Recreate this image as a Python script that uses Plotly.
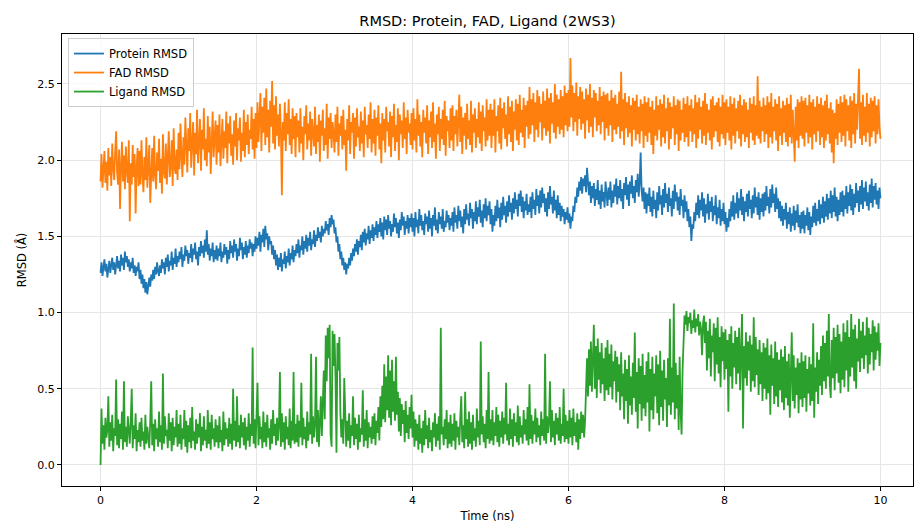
import numpy as np
import plotly.graph_objects as go

# Simulation length (ns); frames are evenly spaced over it (one frame every 0.0125 ns)
sim_length_ns = 10.0

# Protein backbone RMSD (Å), one row per 0.5 ns
protein_rmsd = [
    1.26, 1.33, 1.24, 1.30, 1.35, 1.27, 1.32, 1.23, 1.29, 1.34, 1.26, 1.31, 1.36, 1.28, 1.33, 1.25, 1.30, 1.37, 1.29, 1.34, 1.27, 1.38, 1.31, 1.36, 1.28, 1.40, 1.33, 1.37, 1.30, 1.35, 1.27, 1.33, 1.29, 1.36, 1.26, 1.31, 1.24, 1.30, 1.27, 1.33,
    1.22, 1.28, 1.19, 1.25, 1.16, 1.22, 1.13, 1.20, 1.12, 1.18, 1.23, 1.17, 1.25, 1.21, 1.28, 1.22, 1.30, 1.25, 1.33, 1.27, 1.24, 1.31, 1.26, 1.35, 1.29, 1.33, 1.25, 1.36, 1.30, 1.38, 1.27, 1.34, 1.31, 1.40, 1.28, 1.36, 1.32, 1.42, 1.30, 1.37,
    1.33, 1.40, 1.35, 1.43, 1.30, 1.38, 1.34, 1.44, 1.37, 1.41, 1.32, 1.39, 1.36, 1.45, 1.33, 1.42, 1.38, 1.46, 1.35, 1.40, 1.31, 1.43, 1.37, 1.47, 1.39, 1.44, 1.36, 1.48, 1.40, 1.54, 1.38, 1.45, 1.34, 1.42, 1.37, 1.46, 1.33, 1.41, 1.35, 1.44,
    1.34, 1.42, 1.37, 1.46, 1.33, 1.40, 1.36, 1.45, 1.38, 1.43, 1.32, 1.41, 1.35, 1.47, 1.39, 1.44, 1.36, 1.48, 1.40, 1.45, 1.34, 1.42, 1.37, 1.49, 1.41, 1.46, 1.35, 1.43, 1.38, 1.47, 1.36, 1.44, 1.39, 1.48, 1.42, 1.46, 1.37, 1.45, 1.40, 1.50,
    1.42, 1.49, 1.44, 1.53, 1.40, 1.51, 1.46, 1.55, 1.43, 1.57, 1.48, 1.52, 1.41, 1.50, 1.45, 1.47, 1.38, 1.44, 1.35, 1.41, 1.31, 1.38, 1.28, 1.36, 1.30, 1.39, 1.27, 1.35, 1.32, 1.40, 1.29, 1.37, 1.33, 1.42, 1.31, 1.39, 1.35, 1.44, 1.33, 1.41,
    1.37, 1.45, 1.39, 1.48, 1.36, 1.44, 1.41, 1.50, 1.38, 1.47, 1.42, 1.51, 1.40, 1.49, 1.44, 1.53, 1.41, 1.48, 1.45, 1.54, 1.43, 1.51, 1.47, 1.56, 1.49, 1.53, 1.46, 1.57, 1.50, 1.55, 1.52, 1.60, 1.54, 1.58, 1.51, 1.62, 1.56, 1.64, 1.58, 1.61,
    1.52, 1.56, 1.46, 1.50, 1.40, 1.45, 1.35, 1.40, 1.31, 1.36, 1.28, 1.33, 1.25, 1.32, 1.29, 1.36, 1.31, 1.39, 1.34, 1.42, 1.37, 1.45, 1.40, 1.48, 1.38, 1.47, 1.43, 1.51, 1.41, 1.53, 1.46, 1.55, 1.44, 1.52, 1.48, 1.57, 1.45, 1.54, 1.49, 1.58,
    1.47, 1.56, 1.51, 1.60, 1.49, 1.58, 1.53, 1.62, 1.50, 1.59, 1.48, 1.63, 1.54, 1.61, 1.51, 1.64, 1.55, 1.60, 1.50, 1.58, 1.53, 1.65, 1.56, 1.62, 1.52, 1.59, 1.49, 1.61, 1.54, 1.66, 1.57, 1.63, 1.51, 1.60, 1.55, 1.64, 1.52, 1.62, 1.56, 1.65,
    1.53, 1.62, 1.50, 1.66, 1.56, 1.61, 1.52, 1.68, 1.57, 1.64, 1.54, 1.60, 1.51, 1.65, 1.58, 1.63, 1.53, 1.67, 1.55, 1.62, 1.50, 1.64, 1.57, 1.69, 1.54, 1.61, 1.52, 1.66, 1.58, 1.63, 1.55, 1.68, 1.53, 1.60, 1.56, 1.67, 1.59, 1.64, 1.54, 1.62,
    1.57, 1.66, 1.53, 1.69, 1.59, 1.64, 1.55, 1.70, 1.60, 1.67, 1.56, 1.63, 1.52, 1.68, 1.58, 1.71, 1.61, 1.65, 1.57, 1.72, 1.62, 1.68, 1.55, 1.66, 1.60, 1.73, 1.58, 1.69, 1.63, 1.74, 1.59, 1.67, 1.56, 1.71, 1.62, 1.75, 1.60, 1.70, 1.64, 1.73,
    1.58, 1.68, 1.53, 1.64, 1.57, 1.70, 1.60, 1.74, 1.62, 1.69, 1.56, 1.72, 1.61, 1.76, 1.64, 1.70, 1.59, 1.73, 1.63, 1.77, 1.66, 1.72, 1.61, 1.75, 1.65, 1.79, 1.68, 1.74, 1.63, 1.78, 1.70, 1.80, 1.66, 1.76, 1.62, 1.73, 1.67, 1.78, 1.64, 1.71,
    1.66, 1.76, 1.62, 1.79, 1.68, 1.74, 1.64, 1.81, 1.70, 1.77, 1.65, 1.80, 1.69, 1.82, 1.72, 1.78, 1.66, 1.75, 1.63, 1.79, 1.68, 1.83, 1.71, 1.76, 1.65, 1.80, 1.67, 1.74, 1.62, 1.77, 1.64, 1.72, 1.60, 1.70, 1.63, 1.68, 1.58, 1.66, 1.61, 1.69,
    1.59, 1.65, 1.55, 1.63, 1.60, 1.70, 1.66, 1.76, 1.72, 1.82, 1.76, 1.86, 1.80, 1.89, 1.78, 1.88, 1.83, 1.90, 1.79, 1.95, 1.84, 1.77, 1.86, 1.72, 1.83, 1.75, 1.85, 1.70, 1.81, 1.74, 1.87, 1.71, 1.80, 1.68, 1.84, 1.73, 1.79, 1.69, 1.86, 1.75,
    1.70, 1.82, 1.74, 1.86, 1.69, 1.80, 1.72, 1.84, 1.76, 1.88, 1.71, 1.83, 1.75, 1.87, 1.73, 1.81, 1.68, 1.85, 1.77, 1.89, 1.74, 1.84, 1.70, 1.86, 1.78, 1.90, 1.75, 1.83, 1.72, 1.87, 1.79, 1.91, 1.76, 1.85, 2.05, 1.80, 1.73, 1.82, 1.68, 1.79,
    1.65, 1.78, 1.70, 1.82, 1.66, 1.76, 1.63, 1.80, 1.68, 1.74, 1.62, 1.79, 1.67, 1.83, 1.71, 1.77, 1.64, 1.81, 1.69, 1.85, 1.72, 1.78, 1.66, 1.82, 1.70, 1.75, 1.63, 1.80, 1.68, 1.84, 1.73, 1.79, 1.67, 1.76, 1.64, 1.81, 1.70, 1.74, 1.62, 1.77,
    1.66, 1.73, 1.60, 1.68, 1.56, 1.63, 1.47, 1.58, 1.55, 1.66, 1.60, 1.72, 1.64, 1.77, 1.62, 1.74, 1.67, 1.79, 1.63, 1.75, 1.59, 1.71, 1.65, 1.78, 1.61, 1.73, 1.66, 1.76, 1.60, 1.70, 1.64, 1.77, 1.58, 1.69, 1.62, 1.74, 1.57, 1.68, 1.60, 1.72,
    1.58, 1.66, 1.53, 1.62, 1.56, 1.68, 1.60, 1.73, 1.63, 1.77, 1.61, 1.72, 1.65, 1.79, 1.62, 1.75, 1.67, 1.81, 1.64, 1.76, 1.60, 1.73, 1.66, 1.78, 1.63, 1.80, 1.68, 1.74, 1.62, 1.77, 1.65, 1.82, 1.69, 1.76, 1.64, 1.79, 1.61, 1.75, 1.66, 1.78,
    1.63, 1.79, 1.67, 1.83, 1.70, 1.76, 1.65, 1.81, 1.69, 1.84, 1.72, 1.78, 1.66, 1.82, 1.68, 1.75, 1.62, 1.73, 1.60, 1.70, 1.57, 1.68, 1.61, 1.72, 1.55, 1.66, 1.58, 1.69, 1.53, 1.65, 1.57, 1.70, 1.54, 1.67, 1.59, 1.71, 1.56, 1.64, 1.52, 1.66,
    1.55, 1.67, 1.52, 1.64, 1.57, 1.69, 1.54, 1.66, 1.51, 1.63, 1.56, 1.70, 1.59, 1.72, 1.57, 1.68, 1.60, 1.74, 1.58, 1.71, 1.62, 1.76, 1.59, 1.73, 1.63, 1.78, 1.61, 1.75, 1.65, 1.80, 1.62, 1.77, 1.66, 1.82, 1.63, 1.76, 1.60, 1.74, 1.64, 1.79,
    1.66, 1.80, 1.63, 1.77, 1.68, 1.83, 1.65, 1.79, 1.70, 1.84, 1.67, 1.81, 1.64, 1.78, 1.69, 1.85, 1.72, 1.80, 1.66, 1.83, 1.71, 1.87, 1.68, 1.82, 1.73, 1.86, 1.70, 1.79, 1.67, 1.84, 1.72, 1.88, 1.69, 1.83, 1.74, 1.85, 1.71, 1.80, 1.68, 1.82,
    1.75,
]

# FAD cofactor RMSD (Å)
fad_rmsd = [
    1.86, 2.04, 1.82, 1.97, 2.06, 1.85, 1.99, 1.80, 2.08, 1.90, 2.02, 1.83, 2.11, 1.95, 1.87, 2.05, 2.19, 1.92, 1.84, 2.07, 1.68, 1.96, 2.12, 1.86, 2.03, 1.81, 2.09, 1.93, 1.85, 2.13, 1.60, 1.98, 1.84, 2.10, 1.89, 2.04, 1.65, 1.95, 2.08, 1.83,
    2.06, 1.84, 2.13, 1.91, 1.79, 2.02, 1.87, 2.15, 1.82, 1.97, 2.10, 1.72, 1.94, 2.08, 1.86, 2.16, 1.90, 1.81, 2.05, 1.93, 2.14, 1.85, 2.01, 1.78, 2.17, 1.92, 1.88, 2.11, 1.84, 2.03, 2.19, 1.89, 1.96, 2.13, 1.83, 2.21, 1.95, 1.91, 2.07, 1.87,
    2.18, 1.94, 2.24, 2.03, 1.89, 2.15, 1.97, 2.28, 2.01, 1.92, 2.21, 2.06, 2.31, 1.95, 2.12, 2.25, 1.90, 2.18, 2.04, 2.33, 1.98, 2.09, 2.27, 1.93, 2.20, 2.07, 2.34, 2.00, 2.14, 1.96, 2.29, 2.05, 2.22, 1.91, 2.17, 2.32, 2.02, 2.11, 2.26, 1.97,
    2.23, 2.05, 2.30, 1.96, 2.15, 2.27, 2.01, 2.19, 2.08, 2.32, 1.98, 2.24, 2.11, 2.29, 2.03, 2.17, 1.97, 2.26, 2.09, 2.31, 2.00, 2.21, 2.13, 2.28, 1.99, 2.18, 2.06, 2.33, 2.02, 2.25, 2.10, 2.30, 2.04, 2.20, 2.14, 2.35, 2.07, 2.27, 2.01, 2.31,
    2.08, 2.38, 2.12, 2.29, 2.44, 2.06, 2.35, 2.18, 2.41, 2.10, 2.47, 2.15, 2.33, 2.05, 2.39, 2.22, 2.52, 2.11, 2.36, 2.07, 2.42, 2.16, 2.30, 2.09, 2.37, 2.19, 1.77, 2.25, 2.13, 2.38, 2.06, 2.31, 2.17, 2.40, 2.10, 2.27, 2.04, 2.34, 2.14, 2.29,
    2.02, 2.31, 2.15, 2.26, 2.05, 2.34, 2.11, 2.22, 2.00, 2.29, 2.17, 2.36, 2.07, 2.24, 2.13, 2.32, 2.03, 2.27, 2.19, 2.09, 2.35, 2.04, 2.23, 2.12, 2.30, 1.99, 2.26, 2.16, 2.33, 2.06, 2.21, 2.10, 2.37, 2.01, 2.28, 2.14, 2.31, 2.08, 2.25, 2.18,
    2.05, 2.30, 2.12, 2.35, 2.03, 2.24, 2.16, 2.29, 2.07, 2.33, 2.10, 2.20, 1.93, 2.27, 2.13, 2.36, 2.04, 2.25, 2.18, 2.31, 2.01, 2.28, 2.09, 2.34, 2.15, 2.22, 2.06, 2.32, 2.11, 2.26, 2.02, 2.35, 2.17, 2.23, 2.08, 2.30, 2.14, 2.38, 2.05, 2.27,
    2.11, 2.33, 2.03, 2.28, 2.16, 2.36, 2.07, 2.24, 1.98, 2.31, 2.13, 2.27, 2.05, 2.35, 2.19, 2.25, 2.09, 2.32, 2.02, 2.29, 2.15, 2.37, 2.06, 2.23, 2.12, 2.34, 2.00, 2.30, 2.17, 2.26, 2.08, 2.38, 2.14, 2.28, 2.04, 2.33, 2.18, 2.24, 2.10, 2.31,
    2.07, 2.34, 2.13, 2.27, 2.05, 2.40, 2.16, 2.30, 2.09, 2.25, 2.02, 2.33, 2.18, 2.28, 2.11, 2.36, 2.04, 2.26, 2.15, 2.32, 2.08, 2.38, 2.12, 2.24, 2.01, 2.30, 2.17, 2.35, 2.06, 2.27, 2.14, 2.33, 2.10, 2.39, 2.03, 2.29, 2.19, 2.26, 2.08, 2.34,
    2.13, 2.36, 2.06, 2.29, 2.17, 2.33, 2.09, 2.25, 2.43, 2.12, 2.35, 2.04, 2.28, 2.16, 2.31, 2.07, 2.37, 2.14, 2.26, 2.10, 2.39, 2.05, 2.30, 2.18, 2.34, 2.08, 2.27, 2.15, 2.38, 2.11, 2.32, 2.06, 2.36, 2.19, 2.28, 2.09, 2.40, 2.13, 2.33, 2.16,
    2.37, 2.08, 2.33, 2.16, 2.40, 2.05, 2.29, 2.19, 2.36, 2.11, 2.41, 2.07, 2.34, 2.21, 2.38, 2.14, 2.30, 2.09, 2.42, 2.17, 2.35, 2.12, 2.39, 2.06, 2.32, 2.20, 2.40, 2.13, 2.37, 2.10, 2.43, 2.18, 2.33, 2.15, 2.41, 2.08, 2.36, 2.22, 2.39, 2.14,
    2.48, 2.17, 2.40, 2.23, 2.44, 2.12, 2.38, 2.20, 2.46, 2.15, 2.42, 2.25, 2.37, 2.13, 2.45, 2.21, 2.39, 2.16, 2.47, 2.19, 2.41, 2.11, 2.44, 2.24, 2.38, 2.18, 2.50, 2.14, 2.43, 2.22, 2.40, 2.17, 2.46, 2.20, 2.42, 2.15, 2.49, 2.23, 2.44, 2.19,
    2.46, 2.22, 2.67, 2.28, 2.49, 2.19, 2.44, 2.25, 2.51, 2.16, 2.42, 2.27, 2.48, 2.20, 2.45, 2.24, 2.40, 2.14, 2.47, 2.26, 2.43, 2.18, 2.50, 2.22, 2.41, 2.15, 2.46, 2.28, 2.44, 2.19, 2.39, 2.23, 2.48, 2.17, 2.42, 2.25, 2.45, 2.13, 2.43, 2.21,
    2.44, 2.16, 2.39, 2.23, 2.46, 2.12, 2.41, 2.20, 2.43, 2.17, 2.37, 2.22, 2.45, 2.14, 2.58, 2.19, 2.40, 2.10, 2.44, 2.21, 2.38, 2.15, 2.42, 2.18, 2.36, 2.09, 2.41, 2.20, 2.39, 2.13, 2.43, 2.17, 2.35, 2.11, 2.40, 2.19, 2.37, 2.08, 2.42, 2.16,
    2.38, 2.12, 2.41, 2.18, 2.35, 2.10, 2.39, 2.04, 2.33, 2.16, 2.42, 2.13, 2.36, 2.20, 2.40, 2.09, 2.37, 2.15, 2.43, 2.11, 2.34, 2.19, 2.41, 2.07, 2.38, 2.14, 2.35, 2.21, 2.42, 2.10, 2.36, 2.17, 2.40, 2.06, 2.39, 2.13, 2.33, 2.18, 2.41, 2.12,
    2.37, 2.15, 2.42, 2.09, 2.36, 2.19, 2.40, 2.12, 2.34, 2.17, 2.43, 2.08, 2.38, 2.14, 2.41, 2.20, 2.35, 2.11, 2.39, 2.16, 2.44, 2.10, 2.37, 2.18, 2.33, 2.13, 2.40, 2.07, 2.42, 2.15, 2.36, 2.19, 2.38, 2.12, 2.41, 2.09, 2.35, 2.17, 2.43, 2.14,
    2.38, 2.10, 2.40, 2.18, 2.35, 2.13, 2.42, 2.07, 2.37, 2.16, 2.41, 2.11, 2.34, 2.19, 2.39, 2.14, 2.43, 2.09, 2.36, 2.17, 2.40, 2.12, 2.38, 2.15, 2.33, 2.08, 2.41, 2.18, 2.37, 2.13, 2.42, 2.10, 2.36, 2.16, 2.55, 2.14, 2.39, 2.11, 2.35, 2.19,
    2.41, 2.12, 2.36, 2.17, 2.42, 2.08, 2.38, 2.15, 2.44, 2.11, 2.35, 2.19, 2.40, 2.13, 2.37, 2.06, 2.42, 2.16, 2.34, 2.10, 2.39, 2.18, 2.36, 2.12, 2.41, 2.09, 2.37, 2.15, 2.43, 2.11, 2.33, 2.17, 1.99, 2.35, 2.13, 2.40, 2.08, 2.38, 2.16, 2.42,
    2.14, 2.39, 2.09, 2.41, 2.18, 2.36, 2.11, 2.43, 2.15, 2.38, 2.07, 2.40, 2.17, 2.35, 2.12, 2.42, 2.19, 2.37, 2.10, 2.41, 2.15, 2.36, 2.08, 2.39, 2.13, 2.43, 2.17, 2.34, 2.11, 2.38, 2.05, 2.33, 1.98, 2.31, 2.14, 2.40, 2.10, 2.37, 2.18, 2.42,
    2.12, 2.38, 2.16, 2.43, 2.09, 2.40, 2.19, 2.36, 2.13, 2.42, 2.08, 2.39, 2.17, 2.44, 2.11, 2.37, 2.20, 2.41, 2.60, 2.14, 2.38, 2.10, 2.43, 2.16, 2.35, 2.12, 2.44, 2.18, 2.37, 2.09, 2.41, 2.15, 2.39, 2.19, 2.42, 2.11, 2.36, 2.17, 2.40, 2.22,
    2.14,
]

# Ligand heavy-atom RMSD (Å)
ligand_rmsd = [
    0.00, 0.37, 0.14, 0.26, 0.10, 0.31, 0.18, 0.23, 0.45, 0.12, 0.28, 0.16, 0.33, 0.09, 0.24, 0.19, 0.56, 0.13, 0.30, 0.11, 0.27, 0.17, 0.35, 0.10, 0.55, 0.15, 0.25, 0.12, 0.32, 0.20, 0.14, 0.29, 0.50, 0.11, 0.26, 0.17, 0.34, 0.09, 0.23, 0.15,
    0.28, 0.12, 0.31, 0.16, 0.22, 0.10, 0.33, 0.14, 0.25, 0.18, 0.11, 0.29, 0.55, 0.13, 0.27, 0.09, 0.30, 0.17, 0.24, 0.12, 0.35, 0.15, 0.26, 0.10, 0.60, 0.14, 0.32, 0.19, 0.23, 0.11, 0.34, 0.16, 0.28, 0.09, 0.31, 0.13, 0.25, 0.18, 0.36, 0.12,
    0.27, 0.14, 0.33, 0.10, 0.24, 0.17, 0.36, 0.12, 0.29, 0.08, 0.26, 0.15, 0.31, 0.11, 0.38, 0.16, 0.22, 0.10, 0.30, 0.14, 0.27, 0.18, 0.34, 0.09, 0.25, 0.13, 0.32, 0.16, 0.23, 0.11, 0.36, 0.14, 0.28, 0.10, 0.33, 0.17, 0.24, 0.12, 0.30, 0.15,
    0.26, 0.11, 0.32, 0.15, 0.23, 0.09, 0.35, 0.13, 0.28, 0.17, 0.24, 0.12, 0.31, 0.14, 0.27, 0.10, 0.50, 0.16, 0.29, 0.12, 0.45, 0.15, 0.26, 0.11, 0.33, 0.18, 0.28, 0.13, 0.31, 0.10, 0.25, 0.16, 0.34, 0.12, 0.27, 0.19, 0.77, 0.14, 0.30, 0.11,
    0.29, 0.54, 0.13, 0.32, 0.17, 0.25, 0.11, 0.35, 0.15, 0.28, 0.12, 0.33, 0.18, 0.24, 0.10, 0.30, 0.14, 0.36, 0.19, 0.27, 0.13, 0.31, 0.16, 0.26, 0.61, 0.12, 0.34, 0.15, 0.28, 0.10, 0.32, 0.17, 0.25, 0.13, 0.37, 0.11, 0.29, 0.16, 0.61, 0.14,
    0.27, 0.15, 0.33, 0.12, 0.29, 0.18, 0.54, 0.13, 0.31, 0.17, 0.25, 0.11, 0.35, 0.16, 0.28, 0.20, 0.73, 0.14, 0.32, 0.18, 0.26, 0.71, 0.15, 0.36, 0.12, 0.30, 0.45, 0.19, 0.40, 0.62, 0.30, 0.85, 0.55, 0.90, 0.70, 0.92, 0.20, 0.12, 0.88, 0.65,
    0.86, 0.58, 0.08, 0.80, 0.62, 0.84, 0.35, 0.18, 0.30, 0.14, 0.57, 0.22, 0.12, 0.29, 0.16, 0.34, 0.11, 0.26, 0.19, 0.45, 0.13, 0.31, 0.17, 0.27, 0.10, 0.33, 0.15, 0.24, 0.20, 0.49, 0.12, 0.30, 0.16, 0.36, 0.11, 0.28, 0.18, 0.25, 0.14, 0.32,
    0.17, 0.34, 0.13, 0.29, 0.21, 0.38, 0.16, 0.45, 0.25, 0.52, 0.30, 0.66, 0.28, 0.58, 0.36, 0.72, 0.31, 0.62, 0.26, 0.69, 0.35, 0.55, 0.29, 0.71, 0.33, 0.48, 0.22, 0.44, 0.19, 0.40, 0.27, 0.36, 0.15, 0.42, 0.21, 0.33, 0.17, 0.38, 0.24, 0.46,
    0.18, 0.35, 0.12, 0.30, 0.16, 0.27, 0.10, 0.33, 0.14, 0.24, 0.08, 0.29, 0.13, 0.36, 0.17, 0.26, 0.11, 0.31, 0.15, 0.23, 0.09, 0.28, 0.18, 0.34, 0.12, 0.27, 0.16, 0.32, 0.10, 0.90, 0.20, 0.25, 0.13, 0.30, 0.17, 0.36, 0.11, 0.28, 0.14, 0.33,
    0.12, 0.27, 0.16, 0.34, 0.10, 0.29, 0.18, 0.25, 0.13, 0.31, 0.45, 0.15, 0.26, 0.11, 0.48, 0.17, 0.30, 0.12, 0.35, 0.14, 0.28, 0.10, 0.33, 0.16, 0.24, 0.12, 0.37, 0.18, 0.29, 0.13, 0.81, 0.20, 0.32, 0.15, 0.27, 0.11, 0.36, 0.17, 0.61, 0.14,
    0.30, 0.16, 0.36, 0.13, 0.28, 0.19, 0.38, 0.15, 0.33, 0.12, 0.29, 0.18, 0.35, 0.14, 0.31, 0.20, 0.54, 0.16, 0.27, 0.13, 0.37, 0.17, 0.30, 0.12, 0.34, 0.19, 0.28, 0.15, 0.39, 0.13, 0.32, 0.18, 0.26, 0.14, 0.36, 0.20, 0.30, 0.16, 0.38, 0.13,
    0.53, 0.17, 0.33, 0.14, 0.29, 0.20, 0.37, 0.15, 0.31, 0.18, 0.26, 0.13, 0.35, 0.19, 0.30, 0.16, 0.73, 0.14, 0.32, 0.21, 0.28, 0.55, 0.15, 0.36, 0.18, 0.29, 0.13, 0.34, 0.20, 0.31, 0.16, 0.38, 0.14, 0.27, 0.19, 0.50, 0.15, 0.33, 0.17, 0.29,
    0.14, 0.36, 0.18, 0.31, 0.13, 0.37, 0.19, 0.28, 0.15, 0.34, 0.10, 0.30, 0.17, 0.35, 0.21, 0.33, 0.18, 0.29, 0.55, 0.70, 0.45, 0.76, 0.52, 0.81, 0.48, 0.72, 0.92, 0.50, 0.78, 0.44, 0.83, 0.56, 0.74, 0.47, 0.80, 0.53, 0.70, 0.42, 0.77, 0.49,
    0.82, 0.46, 0.73, 0.51, 0.79, 0.43, 0.68, 0.55, 0.75, 0.41, 0.71, 0.48, 0.66, 0.36, 0.74, 0.45, 0.60, 0.30, 0.69, 0.42, 0.63, 0.27, 0.72, 0.39, 0.58, 0.33, 0.67, 0.44, 0.87, 0.35, 0.61, 0.24, 0.70, 0.40, 0.65, 0.29, 0.73, 0.37, 0.59, 0.32,
    0.68, 0.41, 0.74, 0.22, 0.63, 0.36, 0.71, 0.30, 0.60, 0.45, 0.72, 0.34, 0.66, 0.26, 0.75, 0.38, 0.62, 0.29, 0.69, 0.43, 0.57, 0.25, 0.70, 0.39, 0.96, 0.33, 0.64, 0.41, 1.06, 0.30, 0.67, 0.37, 0.59, 0.23, 0.71, 0.35, 0.20, 0.62, 0.85, 0.98,
    0.92, 1.01, 0.88, 0.97, 0.93, 1.00, 0.86, 0.95, 0.90, 1.02, 0.87, 0.96, 0.91, 0.99, 0.85, 0.94, 0.89, 0.72, 0.93, 0.98, 0.80, 0.94, 0.62, 0.88, 0.70, 0.96, 0.58, 0.85, 0.74, 0.93, 0.55, 0.90, 0.66, 0.97, 0.60, 0.84, 0.51, 0.91, 0.68, 0.87,
    0.56, 0.89, 0.63, 0.82, 0.35, 0.86, 0.58, 0.91, 0.50, 0.80, 0.64, 0.88, 0.53, 0.84, 0.60, 0.90, 0.49, 0.83, 0.99, 0.24, 0.78, 0.57, 0.87, 0.52, 0.81, 0.62, 0.85, 0.48, 0.79, 0.55, 0.97, 0.51, 0.84, 0.59, 0.76, 0.46, 0.82, 0.53, 0.74, 0.42,
    0.80, 0.50, 0.77, 0.43, 0.83, 0.47, 0.72, 0.33, 0.79, 0.52, 0.70, 0.40, 0.81, 0.45, 0.74, 0.38, 0.69, 0.49, 0.76, 0.41, 0.71, 0.36, 0.78, 0.44, 0.68, 0.39, 0.73, 0.31, 0.66, 0.87, 0.42, 0.72, 0.37, 0.64, 0.46, 0.70, 0.34, 0.67, 0.43, 0.74,
    0.38, 0.68, 0.44, 0.72, 0.35, 0.63, 0.47, 0.71, 0.39, 0.66, 0.42, 0.93, 0.31, 0.64, 0.48, 0.74, 0.40, 0.69, 0.52, 0.78, 0.46, 0.85, 0.55, 0.80, 0.50, 0.88, 0.58, 0.99, 0.53, 0.44, 0.82, 0.57, 0.90, 0.49, 0.84, 0.60, 0.92, 0.54, 0.86, 0.47,
    0.81, 0.56, 0.93, 0.51, 0.87, 0.62, 0.95, 0.48, 0.84, 0.58, 0.99, 0.64, 0.89, 0.55, 0.92, 0.50, 0.83, 0.68, 0.96, 0.61, 0.88, 0.70, 0.94, 0.63, 0.85, 0.72, 0.97, 0.60, 0.90, 0.66, 0.86, 0.74, 0.95, 0.62, 0.91, 0.69, 0.87, 0.75, 0.93, 0.65,
    0.80,
]

series_names = ["Protein RMSD", "FAD RMSD", "Ligand RMSD"]
series_colors = ["#1f77b4", "#ff7f0e", "#2ca02c"]
x_ticks = [0, 2, 4, 6, 8, 10]
y_ticks = [0.0, 0.5, 1.0, 1.5, 2.0, 2.5]

fig = go.Figure()
for name, values, color in zip(series_names, [protein_rmsd, fad_rmsd, ligand_rmsd], series_colors):
    time_ns = np.linspace(0.0, sim_length_ns, len(values))
    fig.add_trace(go.Scatter(
        x=time_ns, y=values, mode="lines", name=name,
        line=dict(color=color, width=1.8),
    ))

font_family = "DejaVu Sans, sans-serif"
axis_style = dict(
    showline=True, linecolor="#000000", linewidth=1, mirror=True,
    ticks="outside", ticklen=4, tickwidth=1, tickcolor="#000000",
    showgrid=True, gridcolor="#e6e6e6", gridwidth=1, zeroline=False,
    tickfont=dict(family=font_family, size=11, color="#000000"),
)

fig.update_layout(
    width=914, height=523,
    margin=dict(l=62, r=1, t=34, b=37),
    paper_bgcolor="#ffffff", plot_bgcolor="#ffffff",
    font=dict(family=font_family, size=11, color="#000000"),
    title=dict(
        text="RMSD: Protein, FAD, Ligand (2WS3)",
        x=(62 + 851 / 2) / 914, xanchor="center", y=1 - 21 / 523, yanchor="middle",
        font=dict(family=font_family, size=14.5, color="#000000"),
    ),
    xaxis=dict(
        axis_style, range=[-0.494, 10.417], tickvals=x_ticks,
        title=dict(text="Time (ns)", standoff=6, font=dict(family=font_family, size=11.5)),
    ),
    yaxis=dict(
        axis_style, range=[-0.138, 2.828], tickvals=y_ticks, tickformat=".1f",
        title=dict(text="RMSD (Å)", standoff=8, font=dict(family=font_family, size=11.5)),
    ),
    legend=dict(
        x=0.007, y=0.991, xanchor="left", yanchor="top",
        bgcolor="rgba(255,255,255,0.8)", bordercolor="#cccccc", borderwidth=1,
        font=dict(family=font_family, size=11.5, color="#000000"),
        itemwidth=30, tracegroupgap=0,
    ),
    showlegend=True,
)

fig.write_html("out.html")
